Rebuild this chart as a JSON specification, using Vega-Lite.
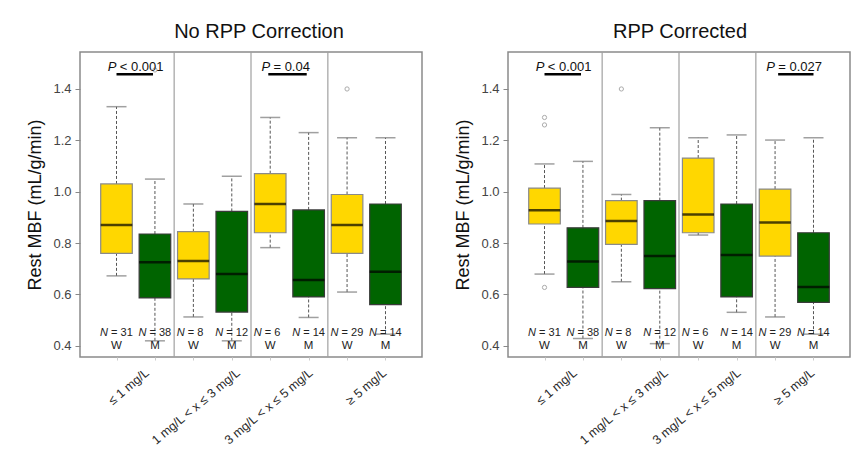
{
  "$schema": "https://vega.github.io/schema/vega-lite/v6.json",
  "padding": {"left": 26, "top": 21, "right": 5, "bottom": 5},
  "background": "white",
  "spacing": 31,
  "config": {
    "font": "Liberation Sans",
    "view": {"stroke": "#8a8a8a", "strokeWidth": 1.5},
    "axis": {"grid": false, "domain": false, "labelFont": "Liberation Sans", "titleFont": "Liberation Sans"}
  },
  "datasets": {
    "dividers": [{"d": 2.5}, {"d": 4.5}, {"d": 6.5}],
    "boxes": [
      {"panel": "A", "pos": 1, "sex": "W", "lo": 0.672, "q1": 0.760, "med": 0.870, "q3": 1.030, "hi": 1.331, "n": 31},
      {"panel": "A", "pos": 2, "sex": "M", "lo": 0.419, "q1": 0.586, "med": 0.725, "q3": 0.835, "hi": 1.049, "n": 38},
      {"panel": "A", "pos": 3, "sex": "W", "lo": 0.512, "q1": 0.660, "med": 0.730, "q3": 0.844, "hi": 0.952, "n": 8},
      {"panel": "A", "pos": 4, "sex": "M", "lo": 0.419, "q1": 0.531, "med": 0.679, "q3": 0.923, "hi": 1.060, "n": 12},
      {"panel": "A", "pos": 5, "sex": "W", "lo": 0.782, "q1": 0.840, "med": 0.952, "q3": 1.070, "hi": 1.289, "n": 6},
      {"panel": "A", "pos": 6, "sex": "M", "lo": 0.510, "q1": 0.590, "med": 0.656, "q3": 0.929, "hi": 1.230, "n": 14},
      {"panel": "A", "pos": 7, "sex": "W", "lo": 0.609, "q1": 0.760, "med": 0.870, "q3": 0.989, "hi": 1.210, "n": 29},
      {"panel": "A", "pos": 8, "sex": "M", "lo": 0.445, "q1": 0.560, "med": 0.688, "q3": 0.952, "hi": 1.210, "n": 14},
      {"panel": "B", "pos": 1, "sex": "W", "lo": 0.679, "q1": 0.874, "med": 0.928, "q3": 1.014, "hi": 1.108, "n": 31},
      {"panel": "B", "pos": 2, "sex": "M", "lo": 0.428, "q1": 0.627, "med": 0.728, "q3": 0.859, "hi": 1.118, "n": 38},
      {"panel": "B", "pos": 3, "sex": "W", "lo": 0.649, "q1": 0.795, "med": 0.886, "q3": 0.965, "hi": 0.989, "n": 8},
      {"panel": "B", "pos": 4, "sex": "M", "lo": 0.408, "q1": 0.622, "med": 0.749, "q3": 0.965, "hi": 1.249, "n": 12},
      {"panel": "B", "pos": 5, "sex": "W", "lo": 0.831, "q1": 0.840, "med": 0.911, "q3": 1.131, "hi": 1.210, "n": 6},
      {"panel": "B", "pos": 6, "sex": "M", "lo": 0.530, "q1": 0.590, "med": 0.753, "q3": 0.952, "hi": 1.221, "n": 14},
      {"panel": "B", "pos": 7, "sex": "W", "lo": 0.512, "q1": 0.749, "med": 0.880, "q3": 1.010, "hi": 1.201, "n": 29},
      {"panel": "B", "pos": 8, "sex": "M", "lo": 0.445, "q1": 0.569, "med": 0.629, "q3": 0.840, "hi": 1.210, "n": 14}
    ],
    "outliers": [
      {"panel": "A", "pos": 2, "v": 1.474},
      {"panel": "A", "pos": 7, "v": 1.400},
      {"panel": "B", "pos": 1, "v": 1.289},
      {"panel": "B", "pos": 1, "v": 1.260},
      {"panel": "B", "pos": 1, "v": 0.627},
      {"panel": "B", "pos": 3, "v": 1.400}
    ],
    "pvals": [
      {"panel": "A", "x1": 1.0, "x2": 1.95, "xc": 1.5, "y": 1.457, "ty": 1.484, "op": "< 0.001"},
      {"panel": "A", "x1": 4.95, "x2": 5.95, "xc": 5.5, "y": 1.457, "ty": 1.484, "op": "= 0.04"},
      {"panel": "B", "x1": 1.0, "x2": 1.95, "xc": 1.5, "y": 1.457, "ty": 1.484, "op": "< 0.001"},
      {"panel": "B", "x1": 7.08, "x2": 8.0, "xc": 7.5, "y": 1.457, "ty": 1.484, "op": "= 0.027"}
    ]
  },
  "hconcat": [
    {
      "title": {"text": "No RPP Correction", "fontSize": 20, "fontWeight": "normal", "color": "#111", "frame": "group", "anchor": "middle", "offset": 9, "dx": 8},
      "width": 342,
      "height": 305,
      "layer": [
        {"data": {"name": "dividers"}, "mark": {"type": "rule", "color": "#a0a0a0", "strokeWidth": 1.2},
         "encoding": {"x": {"field": "d", "type": "quantitative", "scale": {"domain": [0.18, 8.82], "nice": false, "zero": false},
           "axis": {"values": [1, 2, 3, 4, 5, 6, 7, 8], "title": null, "labelExpr": "datum.value == 2 ? '≤ 1 mg/L' : datum.value == 4 ? '1 mg/L < x ≤ 3 mg/L' : datum.value == 6 ? '3 mg/L < x ≤ 5 mg/L' : datum.value == 8 ? '≥ 5 mg/L' : ''",
             "labelAngle": -40, "labelAlign": "right", "labelBaseline": "top", "labelOffset": {"expr": "datum.value == 2 ? -12 : datum.value == 4 ? 2 : datum.value == 6 ? -2 : -5"}, "labelPadding": 6, "labelFontSize": 12.5, "labelColor": "#2a2a2a", "labelOverlap": false, "labelBound": false, "labelFlush": false, "tickSize": 3, "tickColor": "#cccccc"}}}},
        {"data": {"name": "boxes"}, "transform": [{"filter": "datum.panel == 'A'"}], "mark": {"type": "rule", "color": "#555", "strokeDash": [3, 2], "strokeWidth": 1},
         "encoding": {"x": {"field": "pos", "type": "quantitative"}, "y": {"field": "q3", "type": "quantitative"}, "y2": {"field": "hi"}}},
        {"data": {"name": "boxes"}, "transform": [{"filter": "datum.panel == 'A'"}], "mark": {"type": "rule", "color": "#555", "strokeDash": [3, 2], "strokeWidth": 1},
         "encoding": {"x": {"field": "pos", "type": "quantitative"}, "y": {"field": "lo", "type": "quantitative"}, "y2": {"field": "q1"}}},
        {"data": {"name": "boxes"}, "transform": [{"filter": "datum.panel == 'A'"}], "mark": {"type": "tick", "orient": "horizontal", "size": 20, "thickness": 1.5, "color": "#777"},
         "encoding": {"x": {"field": "pos", "type": "quantitative"}, "y": {"field": "hi", "type": "quantitative"}}},
        {"data": {"name": "boxes"}, "transform": [{"filter": "datum.panel == 'A'"}], "mark": {"type": "tick", "orient": "horizontal", "size": 20, "thickness": 1.5, "color": "#777"},
         "encoding": {"x": {"field": "pos", "type": "quantitative"}, "y": {"field": "lo", "type": "quantitative"}}},
        {"data": {"name": "boxes"}, "transform": [{"filter": "datum.panel == 'A'"}], "mark": {"type": "bar", "size": 31.6, "strokeWidth": 1.2},
         "encoding": {"x": {"field": "pos", "type": "quantitative", "scale": {"domain": [0.18, 8.82], "nice": false, "zero": false}},
           "y": {"field": "q1", "type": "quantitative", "scale": {"domain": [0.356, 1.544], "nice": false, "zero": false},
             "axis": {"values": [0.4, 0.6, 0.8, 1.0, 1.2, 1.4], "format": ".1f", "title": "Rest MBF (mL/g/min)", "titleFontSize": 18, "titleFontWeight": "normal", "titleColor": "#111", "titlePadding": 8, "labelFontSize": 13, "labelColor": "#444", "labelPadding": 4, "tickSize": 5, "tickColor": "#888"}},
           "y2": {"field": "q3"},
           "fill": {"field": "sex", "type": "nominal", "scale": {"domain": ["W", "M"], "range": ["#FFD700", "#006400"]}, "legend": null},
           "stroke": {"field": "sex", "type": "nominal", "scale": {"domain": ["W", "M"], "range": ["#8a8a8a", "#3a3a3a"]}, "legend": null}}},
        {"data": {"name": "boxes"}, "transform": [{"filter": "datum.panel == 'A'"}], "mark": {"type": "tick", "orient": "horizontal", "size": 31.6, "thickness": 2.5, "color": "#000"},
         "encoding": {"x": {"field": "pos", "type": "quantitative"}, "y": {"field": "med", "type": "quantitative"}}},
        {"data": {"name": "outliers"}, "transform": [{"filter": "datum.panel == 'A'"}], "mark": {"type": "point", "filled": false, "color": "#888", "size": 18, "strokeWidth": 1},
         "encoding": {"x": {"field": "pos", "type": "quantitative"}, "y": {"field": "v", "type": "quantitative"}}},
        {"data": {"name": "boxes"}, "transform": [{"filter": "datum.panel == 'A'"}], "mark": {"type": "text", "text": "N", "fontStyle": "italic", "align": "left", "baseline": "middle", "dx": -16.5, "fontSize": 11, "color": "#222"},
         "encoding": {"x": {"field": "pos", "type": "quantitative"}, "y": {"datum": 0.448, "type": "quantitative"}}},
        {"data": {"name": "boxes"}, "transform": [{"filter": "datum.panel == 'A'"}], "mark": {"type": "text", "text": "=", "align": "left", "baseline": "middle", "dx": -5.5, "fontSize": 11, "color": "#222"},
         "encoding": {"x": {"field": "pos", "type": "quantitative"}, "y": {"datum": 0.448, "type": "quantitative"}}},
        {"data": {"name": "boxes"}, "transform": [{"filter": "datum.panel == 'A'"}], "mark": {"type": "text", "align": "left", "baseline": "middle", "dx": 4, "fontSize": 11, "color": "#222"},
         "encoding": {"x": {"field": "pos", "type": "quantitative"}, "y": {"datum": 0.448, "type": "quantitative"}, "text": {"field": "n"}}},
        {"data": {"name": "boxes"}, "transform": [{"filter": "datum.panel == 'A'"}], "mark": {"type": "text", "align": "center", "baseline": "middle", "fontSize": 11.5, "color": "#222"},
         "encoding": {"x": {"field": "pos", "type": "quantitative"}, "y": {"datum": 0.399, "type": "quantitative"}, "text": {"field": "sex"}}},
        {"data": {"name": "pvals"}, "transform": [{"filter": "datum.panel == 'A'"}], "mark": {"type": "rule", "color": "#000", "strokeWidth": 2.5},
         "encoding": {"x": {"field": "x1", "type": "quantitative"}, "x2": {"field": "x2"}, "y": {"field": "y", "type": "quantitative"}}},
        {"data": {"name": "pvals"}, "transform": [{"filter": "datum.panel == 'A'"}], "mark": {"type": "text", "text": "P", "fontStyle": "italic", "align": "left", "baseline": "middle", "dx": -28, "fontSize": 13, "color": "#111"},
         "encoding": {"x": {"field": "xc", "type": "quantitative"}, "y": {"field": "ty", "type": "quantitative"}}},
        {"data": {"name": "pvals"}, "transform": [{"filter": "datum.panel == 'A'"}], "mark": {"type": "text", "align": "left", "baseline": "middle", "dx": -16, "fontSize": 13, "color": "#111"},
         "encoding": {"x": {"field": "xc", "type": "quantitative"}, "y": {"field": "ty", "type": "quantitative"}, "text": {"field": "op"}}}
      ]
    },
    {
      "title": {"text": "RPP Corrected", "fontSize": 20, "fontWeight": "normal", "color": "#111", "frame": "group", "anchor": "middle", "offset": 9, "dx": 1},
      "width": 342,
      "height": 305,
      "layer": [
        {"data": {"name": "dividers"}, "mark": {"type": "rule", "color": "#a0a0a0", "strokeWidth": 1.2},
         "encoding": {"x": {"field": "d", "type": "quantitative", "scale": {"domain": [0.18, 8.82], "nice": false, "zero": false},
           "axis": {"values": [1, 2, 3, 4, 5, 6, 7, 8], "title": null, "labelExpr": "datum.value == 2 ? '≤ 1 mg/L' : datum.value == 4 ? '1 mg/L < x ≤ 3 mg/L' : datum.value == 6 ? '3 mg/L < x ≤ 5 mg/L' : datum.value == 8 ? '≥ 5 mg/L' : ''",
             "labelAngle": -40, "labelAlign": "right", "labelBaseline": "top", "labelOffset": {"expr": "datum.value == 2 ? -12 : datum.value == 4 ? 2 : datum.value == 6 ? -2 : -5"}, "labelPadding": 6, "labelFontSize": 12.5, "labelColor": "#2a2a2a", "labelOverlap": false, "labelBound": false, "labelFlush": false, "tickSize": 3, "tickColor": "#cccccc"}}}},
        {"data": {"name": "boxes"}, "transform": [{"filter": "datum.panel == 'B'"}], "mark": {"type": "rule", "color": "#555", "strokeDash": [3, 2], "strokeWidth": 1},
         "encoding": {"x": {"field": "pos", "type": "quantitative"}, "y": {"field": "q3", "type": "quantitative"}, "y2": {"field": "hi"}}},
        {"data": {"name": "boxes"}, "transform": [{"filter": "datum.panel == 'B'"}], "mark": {"type": "rule", "color": "#555", "strokeDash": [3, 2], "strokeWidth": 1},
         "encoding": {"x": {"field": "pos", "type": "quantitative"}, "y": {"field": "lo", "type": "quantitative"}, "y2": {"field": "q1"}}},
        {"data": {"name": "boxes"}, "transform": [{"filter": "datum.panel == 'B'"}], "mark": {"type": "tick", "orient": "horizontal", "size": 20, "thickness": 1.5, "color": "#777"},
         "encoding": {"x": {"field": "pos", "type": "quantitative"}, "y": {"field": "hi", "type": "quantitative"}}},
        {"data": {"name": "boxes"}, "transform": [{"filter": "datum.panel == 'B'"}], "mark": {"type": "tick", "orient": "horizontal", "size": 20, "thickness": 1.5, "color": "#777"},
         "encoding": {"x": {"field": "pos", "type": "quantitative"}, "y": {"field": "lo", "type": "quantitative"}}},
        {"data": {"name": "boxes"}, "transform": [{"filter": "datum.panel == 'B'"}], "mark": {"type": "bar", "size": 31.6, "strokeWidth": 1.2},
         "encoding": {"x": {"field": "pos", "type": "quantitative", "scale": {"domain": [0.18, 8.82], "nice": false, "zero": false}},
           "y": {"field": "q1", "type": "quantitative", "scale": {"domain": [0.356, 1.544], "nice": false, "zero": false},
             "axis": {"values": [0.4, 0.6, 0.8, 1.0, 1.2, 1.4], "format": ".1f", "title": "Rest MBF (mL/g/min)", "titleFontSize": 18, "titleFontWeight": "normal", "titleColor": "#111", "titlePadding": 8, "labelFontSize": 13, "labelColor": "#444", "labelPadding": 4, "tickSize": 5, "tickColor": "#888"}},
           "y2": {"field": "q3"},
           "fill": {"field": "sex", "type": "nominal", "scale": {"domain": ["W", "M"], "range": ["#FFD700", "#006400"]}, "legend": null},
           "stroke": {"field": "sex", "type": "nominal", "scale": {"domain": ["W", "M"], "range": ["#8a8a8a", "#3a3a3a"]}, "legend": null}}},
        {"data": {"name": "boxes"}, "transform": [{"filter": "datum.panel == 'B'"}], "mark": {"type": "tick", "orient": "horizontal", "size": 31.6, "thickness": 2.5, "color": "#000"},
         "encoding": {"x": {"field": "pos", "type": "quantitative"}, "y": {"field": "med", "type": "quantitative"}}},
        {"data": {"name": "outliers"}, "transform": [{"filter": "datum.panel == 'B'"}], "mark": {"type": "point", "filled": false, "color": "#888", "size": 18, "strokeWidth": 1},
         "encoding": {"x": {"field": "pos", "type": "quantitative"}, "y": {"field": "v", "type": "quantitative"}}},
        {"data": {"name": "boxes"}, "transform": [{"filter": "datum.panel == 'B'"}], "mark": {"type": "text", "text": "N", "fontStyle": "italic", "align": "left", "baseline": "middle", "dx": -16.5, "fontSize": 11, "color": "#222"},
         "encoding": {"x": {"field": "pos", "type": "quantitative"}, "y": {"datum": 0.448, "type": "quantitative"}}},
        {"data": {"name": "boxes"}, "transform": [{"filter": "datum.panel == 'B'"}], "mark": {"type": "text", "text": "=", "align": "left", "baseline": "middle", "dx": -5.5, "fontSize": 11, "color": "#222"},
         "encoding": {"x": {"field": "pos", "type": "quantitative"}, "y": {"datum": 0.448, "type": "quantitative"}}},
        {"data": {"name": "boxes"}, "transform": [{"filter": "datum.panel == 'B'"}], "mark": {"type": "text", "align": "left", "baseline": "middle", "dx": 4, "fontSize": 11, "color": "#222"},
         "encoding": {"x": {"field": "pos", "type": "quantitative"}, "y": {"datum": 0.448, "type": "quantitative"}, "text": {"field": "n"}}},
        {"data": {"name": "boxes"}, "transform": [{"filter": "datum.panel == 'B'"}], "mark": {"type": "text", "align": "center", "baseline": "middle", "fontSize": 11.5, "color": "#222"},
         "encoding": {"x": {"field": "pos", "type": "quantitative"}, "y": {"datum": 0.399, "type": "quantitative"}, "text": {"field": "sex"}}},
        {"data": {"name": "pvals"}, "transform": [{"filter": "datum.panel == 'B'"}], "mark": {"type": "rule", "color": "#000", "strokeWidth": 2.5},
         "encoding": {"x": {"field": "x1", "type": "quantitative"}, "x2": {"field": "x2"}, "y": {"field": "y", "type": "quantitative"}}},
        {"data": {"name": "pvals"}, "transform": [{"filter": "datum.panel == 'B'"}], "mark": {"type": "text", "text": "P", "fontStyle": "italic", "align": "left", "baseline": "middle", "dx": -28, "fontSize": 13, "color": "#111"},
         "encoding": {"x": {"field": "xc", "type": "quantitative"}, "y": {"field": "ty", "type": "quantitative"}}},
        {"data": {"name": "pvals"}, "transform": [{"filter": "datum.panel == 'B'"}], "mark": {"type": "text", "align": "left", "baseline": "middle", "dx": -16, "fontSize": 13, "color": "#111"},
         "encoding": {"x": {"field": "xc", "type": "quantitative"}, "y": {"field": "ty", "type": "quantitative"}, "text": {"field": "op"}}}
      ]
    }
  ]
}
